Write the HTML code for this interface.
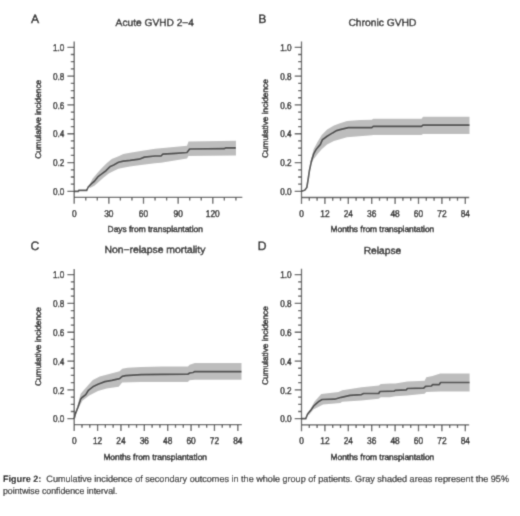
<!DOCTYPE html>
<html><head><meta charset="utf-8"><title>Figure 2</title>
<style>
html,body{margin:0;padding:0;background:#fff;width:520px;height:516px;overflow:hidden;font-family:"Liberation Sans", sans-serif;}
svg{display:block;}
</style></head><body>
<svg width="520" height="516" viewBox="0 0 520 516" font-family='"Liberation Sans", sans-serif'><defs><filter id="bl" x="0" y="0" width="520" height="516" filterUnits="userSpaceOnUse"><feConvolveMatrix order="3" kernelMatrix="0.0225 0.1050 0.0225 0.1050 0.4900 0.1050 0.0225 0.1050 0.0225" edgeMode="duplicate"/></filter></defs><style>text{text-rendering:geometricPrecision;stroke-width:0.45px}</style>
<g filter="url(#bl)"><rect width="520" height="516" fill="#fff"/>
<polygon points="88.2,187 92.5,178.8 97.3,173.1 102.1,167.8 106.9,163 111.7,159.1 118.5,156.25 123.3,154 130,152.8 139.2,151.2 155,148.7 187,145.8 188.5,141.6 236,140.7 236,155.6 188.5,156 187,158.5 161,162.8 155,163.3 139.2,165.2 130,166.6 123.3,167.8 118.5,168.8 113.7,170.9 108.8,173.5 104,177.3 99.2,181.5 94.4,185.7 90,188" fill="#bdbdbd"/>
<polygon points="310.5,162 313.6,149.2 317.6,141.7 321.7,134.9 327.1,129.5 333.9,125.4 340,123.2 347,121 360,120 371.8,119.8 373.2,118.7 421.5,118.7 423,116.7 469.5,116.7 469.5,133.9 423,133.9 421.5,134.9 373.2,134.9 371.8,135.3 347,137.2 340,139.2 333.9,141 327.1,144.4 321.7,149.2 317.6,153.9 313.6,159.3 312,163" fill="#bdbdbd"/>
<polygon points="75.5,413 78.1,403 80.7,393.7 85.8,387.7 92.8,379.9 99.7,376.4 110.1,373.8 119.6,371.2 122.2,368.7 127.4,367.8 141.2,366.9 162,366.6 187.9,366.4 189.6,364.7 194.8,363 241.5,363 241.5,379.8 194.8,379.8 189.6,380.3 187.9,382 162,382.1 141.2,382.1 122.2,382.5 118.7,386.8 106.6,388.5 98,391.1 89.3,395.5 82.4,400.7 78.1,409 75.5,415" fill="#bdbdbd"/>
<polygon points="306,416 309.9,410.1 314.4,401.7 321.2,394 338.5,392.1 342.3,390.2 361.5,387.3 378.8,385.4 380.8,384 390,383.6 395.2,383.4 407.3,381.6 424.6,380.8 426.3,377.3 432.4,375.9 440.2,373.5 469.6,373.5 469.6,391.5 440.2,391.5 426.3,392 424.6,393.7 407.3,395.5 395.2,396.3 390,397.2 380.8,397.3 378.8,398.8 361.5,400.4 342.3,401.7 340.4,403.1 323.1,404.6 319.2,406.5 313.4,409.5 309,415" fill="#bdbdbd"/>
<path d="M74.2 41.6V203.7M74.2 197.3H242.3M67.4 191.4H74.2M70.8 184.19H74.2M70.8 176.99H74.2M70.8 169.78H74.2M67.4 162.58H74.2M70.8 155.38H74.2M70.8 148.17H74.2M70.8 140.97H74.2M67.4 133.76H74.2M70.8 126.55H74.2M70.8 119.35H74.2M70.8 112.14H74.2M67.4 104.94H74.2M70.8 97.73H74.2M70.8 90.53H74.2M70.8 83.32H74.2M67.4 76.12H74.2M70.8 68.91H74.2M70.8 61.71H74.2M70.8 54.5H74.2M67.4 47.3H74.2M85.75 197.3V200.5M97.3 197.3V200.5M108.85 197.3V203.7M120.4 197.3V200.5M131.95 197.3V200.5M143.5 197.3V203.7M155.05 197.3V200.5M166.6 197.3V200.5M178.15 197.3V203.7M189.7 197.3V200.5M201.25 197.3V200.5M212.8 197.3V203.7M224.35 197.3V200.5M235.9 197.3V200.5" stroke="#555555" stroke-width="1.3" fill="none"/>
<text x="64.3" y="195.1" text-anchor="end" font-size="9.9" fill="#222222" stroke="#222222" textLength="11.4" lengthAdjust="spacingAndGlyphs">0.0</text>
<text x="64.3" y="166.28" text-anchor="end" font-size="9.9" fill="#222222" stroke="#222222" textLength="11.4" lengthAdjust="spacingAndGlyphs">0.2</text>
<text x="64.3" y="137.46" text-anchor="end" font-size="9.9" fill="#222222" stroke="#222222" textLength="11.4" lengthAdjust="spacingAndGlyphs">0.4</text>
<text x="64.3" y="108.64" text-anchor="end" font-size="9.9" fill="#222222" stroke="#222222" textLength="11.4" lengthAdjust="spacingAndGlyphs">0.6</text>
<text x="64.3" y="79.82" text-anchor="end" font-size="9.9" fill="#222222" stroke="#222222" textLength="11.4" lengthAdjust="spacingAndGlyphs">0.8</text>
<text x="64.3" y="51" text-anchor="end" font-size="9.9" fill="#222222" stroke="#222222" textLength="11.4" lengthAdjust="spacingAndGlyphs">1.0</text>
<text x="74.2" y="216.8" text-anchor="middle" font-size="9.9" fill="#222222" stroke="#222222" textLength="4.65" lengthAdjust="spacingAndGlyphs">0</text>
<text x="108.85" y="216.8" text-anchor="middle" font-size="9.9" fill="#222222" stroke="#222222" textLength="9.3" lengthAdjust="spacingAndGlyphs">30</text>
<text x="143.5" y="216.8" text-anchor="middle" font-size="9.9" fill="#222222" stroke="#222222" textLength="9.3" lengthAdjust="spacingAndGlyphs">60</text>
<text x="178.15" y="216.8" text-anchor="middle" font-size="9.9" fill="#222222" stroke="#222222" textLength="9.3" lengthAdjust="spacingAndGlyphs">90</text>
<text x="212.8" y="216.8" text-anchor="middle" font-size="9.9" fill="#222222" stroke="#222222" textLength="13.94" lengthAdjust="spacingAndGlyphs">120</text>
<path d="M301.5 41.5V203.9M301.5 197.5H469.2M294.7 191.4H301.5M298.1 184.19H301.5M298.1 176.99H301.5M298.1 169.78H301.5M294.7 162.58H301.5M298.1 155.38H301.5M298.1 148.17H301.5M298.1 140.97H301.5M294.7 133.76H301.5M298.1 126.55H301.5M298.1 119.35H301.5M298.1 112.14H301.5M294.7 104.94H301.5M298.1 97.73H301.5M298.1 90.53H301.5M298.1 83.32H301.5M294.7 76.12H301.5M298.1 68.91H301.5M298.1 61.71H301.5M298.1 54.5H301.5M294.7 47.3H301.5M309.3 197.5V200.7M317.1 197.5V200.7M324.9 197.5V203.9M332.7 197.5V200.7M340.5 197.5V200.7M348.3 197.5V203.9M356.1 197.5V200.7M363.9 197.5V200.7M371.7 197.5V203.9M379.5 197.5V200.7M387.3 197.5V200.7M395.1 197.5V203.9M402.9 197.5V200.7M410.7 197.5V200.7M418.5 197.5V203.9M426.3 197.5V200.7M434.1 197.5V200.7M441.9 197.5V203.9M449.7 197.5V200.7M457.5 197.5V200.7M465.3 197.5V203.9" stroke="#555555" stroke-width="1.3" fill="none"/>
<text x="291.6" y="195.1" text-anchor="end" font-size="9.9" fill="#222222" stroke="#222222" textLength="11.4" lengthAdjust="spacingAndGlyphs">0.0</text>
<text x="291.6" y="166.28" text-anchor="end" font-size="9.9" fill="#222222" stroke="#222222" textLength="11.4" lengthAdjust="spacingAndGlyphs">0.2</text>
<text x="291.6" y="137.46" text-anchor="end" font-size="9.9" fill="#222222" stroke="#222222" textLength="11.4" lengthAdjust="spacingAndGlyphs">0.4</text>
<text x="291.6" y="108.64" text-anchor="end" font-size="9.9" fill="#222222" stroke="#222222" textLength="11.4" lengthAdjust="spacingAndGlyphs">0.6</text>
<text x="291.6" y="79.82" text-anchor="end" font-size="9.9" fill="#222222" stroke="#222222" textLength="11.4" lengthAdjust="spacingAndGlyphs">0.8</text>
<text x="291.6" y="51" text-anchor="end" font-size="9.9" fill="#222222" stroke="#222222" textLength="11.4" lengthAdjust="spacingAndGlyphs">1.0</text>
<text x="301.5" y="217" text-anchor="middle" font-size="9.9" fill="#222222" stroke="#222222" textLength="4.65" lengthAdjust="spacingAndGlyphs">0</text>
<text x="324.9" y="217" text-anchor="middle" font-size="9.9" fill="#222222" stroke="#222222" textLength="9.3" lengthAdjust="spacingAndGlyphs">12</text>
<text x="348.3" y="217" text-anchor="middle" font-size="9.9" fill="#222222" stroke="#222222" textLength="9.3" lengthAdjust="spacingAndGlyphs">24</text>
<text x="371.7" y="217" text-anchor="middle" font-size="9.9" fill="#222222" stroke="#222222" textLength="9.3" lengthAdjust="spacingAndGlyphs">36</text>
<text x="395.1" y="217" text-anchor="middle" font-size="9.9" fill="#222222" stroke="#222222" textLength="9.3" lengthAdjust="spacingAndGlyphs">48</text>
<text x="418.5" y="217" text-anchor="middle" font-size="9.9" fill="#222222" stroke="#222222" textLength="9.3" lengthAdjust="spacingAndGlyphs">60</text>
<text x="441.9" y="217" text-anchor="middle" font-size="9.9" fill="#222222" stroke="#222222" textLength="9.3" lengthAdjust="spacingAndGlyphs">72</text>
<text x="465.3" y="217" text-anchor="middle" font-size="9.9" fill="#222222" stroke="#222222" textLength="9.3" lengthAdjust="spacingAndGlyphs">84</text>
<path d="M74.2 268.9V431M74.2 424.6H241.8M67.4 418.7H74.2M70.8 411.5H74.2M70.8 404.29H74.2M70.8 397.09H74.2M67.4 389.88H74.2M70.8 382.68H74.2M70.8 375.47H74.2M70.8 368.27H74.2M67.4 361.06H74.2M70.8 353.86H74.2M70.8 346.65H74.2M70.8 339.45H74.2M67.4 332.24H74.2M70.8 325.04H74.2M70.8 317.83H74.2M70.8 310.62H74.2M67.4 303.42H74.2M70.8 296.22H74.2M70.8 289.01H74.2M70.8 281.81H74.2M67.4 274.6H74.2M81.99 424.6V427.8M89.78 424.6V427.8M97.58 424.6V431M105.37 424.6V427.8M113.16 424.6V427.8M120.95 424.6V431M128.74 424.6V427.8M136.54 424.6V427.8M144.33 424.6V431M152.12 424.6V427.8M159.91 424.6V427.8M167.7 424.6V431M175.5 424.6V427.8M183.29 424.6V427.8M191.08 424.6V431M198.87 424.6V427.8M206.66 424.6V427.8M214.46 424.6V431M222.25 424.6V427.8M230.04 424.6V427.8M237.83 424.6V431" stroke="#555555" stroke-width="1.3" fill="none"/>
<text x="64.3" y="422.4" text-anchor="end" font-size="9.9" fill="#222222" stroke="#222222" textLength="11.4" lengthAdjust="spacingAndGlyphs">0.0</text>
<text x="64.3" y="393.58" text-anchor="end" font-size="9.9" fill="#222222" stroke="#222222" textLength="11.4" lengthAdjust="spacingAndGlyphs">0.2</text>
<text x="64.3" y="364.76" text-anchor="end" font-size="9.9" fill="#222222" stroke="#222222" textLength="11.4" lengthAdjust="spacingAndGlyphs">0.4</text>
<text x="64.3" y="335.94" text-anchor="end" font-size="9.9" fill="#222222" stroke="#222222" textLength="11.4" lengthAdjust="spacingAndGlyphs">0.6</text>
<text x="64.3" y="307.12" text-anchor="end" font-size="9.9" fill="#222222" stroke="#222222" textLength="11.4" lengthAdjust="spacingAndGlyphs">0.8</text>
<text x="64.3" y="278.3" text-anchor="end" font-size="9.9" fill="#222222" stroke="#222222" textLength="11.4" lengthAdjust="spacingAndGlyphs">1.0</text>
<text x="74.2" y="444.1" text-anchor="middle" font-size="9.9" fill="#222222" stroke="#222222" textLength="4.65" lengthAdjust="spacingAndGlyphs">0</text>
<text x="97.58" y="444.1" text-anchor="middle" font-size="9.9" fill="#222222" stroke="#222222" textLength="9.3" lengthAdjust="spacingAndGlyphs">12</text>
<text x="120.95" y="444.1" text-anchor="middle" font-size="9.9" fill="#222222" stroke="#222222" textLength="9.3" lengthAdjust="spacingAndGlyphs">24</text>
<text x="144.33" y="444.1" text-anchor="middle" font-size="9.9" fill="#222222" stroke="#222222" textLength="9.3" lengthAdjust="spacingAndGlyphs">36</text>
<text x="167.7" y="444.1" text-anchor="middle" font-size="9.9" fill="#222222" stroke="#222222" textLength="9.3" lengthAdjust="spacingAndGlyphs">48</text>
<text x="191.08" y="444.1" text-anchor="middle" font-size="9.9" fill="#222222" stroke="#222222" textLength="9.3" lengthAdjust="spacingAndGlyphs">60</text>
<text x="214.46" y="444.1" text-anchor="middle" font-size="9.9" fill="#222222" stroke="#222222" textLength="9.3" lengthAdjust="spacingAndGlyphs">72</text>
<text x="237.83" y="444.1" text-anchor="middle" font-size="9.9" fill="#222222" stroke="#222222" textLength="9.3" lengthAdjust="spacingAndGlyphs">84</text>
<path d="M301.5 268.8V431.2M301.5 424.8H469.2M294.7 418.7H301.5M298.1 411.5H301.5M298.1 404.29H301.5M298.1 397.09H301.5M294.7 389.88H301.5M298.1 382.68H301.5M298.1 375.47H301.5M298.1 368.27H301.5M294.7 361.06H301.5M298.1 353.86H301.5M298.1 346.65H301.5M298.1 339.45H301.5M294.7 332.24H301.5M298.1 325.04H301.5M298.1 317.83H301.5M298.1 310.62H301.5M294.7 303.42H301.5M298.1 296.22H301.5M298.1 289.01H301.5M298.1 281.81H301.5M294.7 274.6H301.5M309.3 424.8V428M317.1 424.8V428M324.9 424.8V431.2M332.7 424.8V428M340.5 424.8V428M348.3 424.8V431.2M356.1 424.8V428M363.9 424.8V428M371.7 424.8V431.2M379.5 424.8V428M387.3 424.8V428M395.1 424.8V431.2M402.9 424.8V428M410.7 424.8V428M418.5 424.8V431.2M426.3 424.8V428M434.1 424.8V428M441.9 424.8V431.2M449.7 424.8V428M457.5 424.8V428M465.3 424.8V431.2" stroke="#555555" stroke-width="1.3" fill="none"/>
<text x="291.6" y="422.4" text-anchor="end" font-size="9.9" fill="#222222" stroke="#222222" textLength="11.4" lengthAdjust="spacingAndGlyphs">0.0</text>
<text x="291.6" y="393.58" text-anchor="end" font-size="9.9" fill="#222222" stroke="#222222" textLength="11.4" lengthAdjust="spacingAndGlyphs">0.2</text>
<text x="291.6" y="364.76" text-anchor="end" font-size="9.9" fill="#222222" stroke="#222222" textLength="11.4" lengthAdjust="spacingAndGlyphs">0.4</text>
<text x="291.6" y="335.94" text-anchor="end" font-size="9.9" fill="#222222" stroke="#222222" textLength="11.4" lengthAdjust="spacingAndGlyphs">0.6</text>
<text x="291.6" y="307.12" text-anchor="end" font-size="9.9" fill="#222222" stroke="#222222" textLength="11.4" lengthAdjust="spacingAndGlyphs">0.8</text>
<text x="291.6" y="278.3" text-anchor="end" font-size="9.9" fill="#222222" stroke="#222222" textLength="11.4" lengthAdjust="spacingAndGlyphs">1.0</text>
<text x="301.5" y="444.3" text-anchor="middle" font-size="9.9" fill="#222222" stroke="#222222" textLength="4.65" lengthAdjust="spacingAndGlyphs">0</text>
<text x="324.9" y="444.3" text-anchor="middle" font-size="9.9" fill="#222222" stroke="#222222" textLength="9.3" lengthAdjust="spacingAndGlyphs">12</text>
<text x="348.3" y="444.3" text-anchor="middle" font-size="9.9" fill="#222222" stroke="#222222" textLength="9.3" lengthAdjust="spacingAndGlyphs">24</text>
<text x="371.7" y="444.3" text-anchor="middle" font-size="9.9" fill="#222222" stroke="#222222" textLength="9.3" lengthAdjust="spacingAndGlyphs">36</text>
<text x="395.1" y="444.3" text-anchor="middle" font-size="9.9" fill="#222222" stroke="#222222" textLength="9.3" lengthAdjust="spacingAndGlyphs">48</text>
<text x="418.5" y="444.3" text-anchor="middle" font-size="9.9" fill="#222222" stroke="#222222" textLength="9.3" lengthAdjust="spacingAndGlyphs">60</text>
<text x="441.9" y="444.3" text-anchor="middle" font-size="9.9" fill="#222222" stroke="#222222" textLength="9.3" lengthAdjust="spacingAndGlyphs">72</text>
<text x="465.3" y="444.3" text-anchor="middle" font-size="9.9" fill="#222222" stroke="#222222" textLength="9.3" lengthAdjust="spacingAndGlyphs">84</text>
<polyline points="74.2,191.4 78.3,191.4 78.7,190.4 86.7,190.4 88.2,187 91.5,183.7 94.4,181.25 97.8,176.9 102.1,173.6 106,170.7 109.8,166.8 113.7,164.9 118.5,162.3 123.3,161.1 130,160.4 139.2,159.2 144.4,157.1 155,156 161,156 162.8,154.2 175.8,153.4 187,152.5 189.6,149 224.2,148.7 226,147.8 236,147.8" fill="none" stroke="#474747" stroke-width="1.7" stroke-linejoin="round"/>
<polyline points="301.5,191.3 304.7,190.3 306.8,187.5 308.1,179.7 309.5,170.2 311.5,160.7 313.6,153.9 316.3,149.2 320.4,144.4 322.4,139.7 327.1,136.3 332.6,132.9 336.6,130.6 340,129.6 348.3,127.6 371.8,127.6 373.2,126.4 421.5,126.4 422.9,125.2 469.5,125.2" fill="none" stroke="#474747" stroke-width="1.7" stroke-linejoin="round"/>
<polyline points="74.2,418.6 75.5,413.6 78.1,406.7 80.7,398.9 82.4,397.2 85.8,394.6 88.4,390.3 92.8,386.8 98,384.2 104.9,381.6 111.8,380.4 119.6,378.7 122.2,376.4 125.6,375.6 141.2,374.7 162,374.3 187.9,374.2 189.6,373 193.1,372.5 194.8,371.6 241.5,371.6" fill="none" stroke="#474747" stroke-width="1.7" stroke-linejoin="round"/>
<polyline points="301.5,418.6 305.8,418.6 307.7,413.8 310.6,410.4 313.5,406.2 316.3,403.7 319.2,401.2 322.1,399.5 334.6,399.2 341.3,397.3 350,395.4 361.5,394.6 363.5,393.5 378.8,393.5 379.8,391.5 394.2,391.2 395.2,390.3 406.4,389.9 407.3,388.5 423.7,388.2 425.5,386.3 431.5,386 432.4,384.7 439.3,384.6 440.5,382.5 469.6,382.5" fill="none" stroke="#474747" stroke-width="1.7" stroke-linejoin="round"/>
<text x="115.6" y="25.9" font-size="10.2" fill="#2a2a2a" stroke="#2a2a2a" textLength="78.4" lengthAdjust="spacingAndGlyphs">Acute GVHD 2−4</text>
<text x="348.4" y="25.8" font-size="10.2" fill="#2a2a2a" stroke="#2a2a2a" textLength="68" lengthAdjust="spacingAndGlyphs">Chronic GVHD</text>
<text x="104.6" y="253.4" font-size="10.2" fill="#2a2a2a" stroke="#2a2a2a" textLength="100.8" lengthAdjust="spacingAndGlyphs">Non−relapse mortality</text>
<text x="363.7" y="253.6" font-size="10.2" fill="#2a2a2a" stroke="#2a2a2a" textLength="37.5" lengthAdjust="spacingAndGlyphs">Relapse</text>
<text x="31.1" y="22.7" font-size="12.2" fill="#1e1e1e" stroke="#1e1e1e">A</text>
<text x="258.3" y="22.7" font-size="12.2" fill="#1e1e1e" stroke="#1e1e1e">B</text>
<text x="30.5" y="250.1" font-size="12.2" fill="#1e1e1e" stroke="#1e1e1e">C</text>
<text x="257.7" y="250.3" font-size="12.2" fill="#1e1e1e" stroke="#1e1e1e">D</text>
<text transform="translate(40.7 119.3) rotate(-90)" x="0" y="0" text-anchor="middle" font-size="8.3" fill="#222222" stroke="#222222" textLength="79" lengthAdjust="spacingAndGlyphs">Cumulative incidence</text>
<text transform="translate(268.1 118.6) rotate(-90)" x="0" y="0" text-anchor="middle" font-size="8.3" fill="#222222" stroke="#222222" textLength="79" lengthAdjust="spacingAndGlyphs">Cumulative incidence</text>
<text transform="translate(41.2 346.6) rotate(-90)" x="0" y="0" text-anchor="middle" font-size="8.3" fill="#222222" stroke="#222222" textLength="79" lengthAdjust="spacingAndGlyphs">Cumulative incidence</text>
<text transform="translate(268.2 345.6) rotate(-90)" x="0" y="0" text-anchor="middle" font-size="8.3" fill="#222222" stroke="#222222" textLength="79" lengthAdjust="spacingAndGlyphs">Cumulative incidence</text>
<text x="107.6" y="231.6" font-size="8.6" fill="#222222" stroke="#222222" textLength="95.2" lengthAdjust="spacingAndGlyphs">Days from transplantation</text>
<text x="330.6" y="231.7" font-size="8.6" fill="#222222" stroke="#222222" textLength="103.6" lengthAdjust="spacingAndGlyphs">Months from transplantation</text>
<text x="103.4" y="459.5" font-size="8.6" fill="#222222" stroke="#222222" textLength="103.6" lengthAdjust="spacingAndGlyphs">Months from transplantation</text>
<text x="330.6" y="459.5" font-size="8.6" fill="#222222" stroke="#222222" textLength="103.6" lengthAdjust="spacingAndGlyphs">Months from transplantation</text>
<text x="3" y="482.3" font-size="9.3" fill="#1a1a1a" stroke="#1a1a1a" style="stroke-width:0.2px" textLength="506" lengthAdjust="spacingAndGlyphs"><tspan font-weight="bold" fill="#000" stroke="#000" style="stroke-width:0.1px">Figure 2:</tspan>  Cumulative incidence of secondary outcomes in the whole group of patients. Gray shaded areas represent the 95%</text>
<text x="3" y="493.8" font-size="9.3" fill="#1a1a1a" stroke="#1a1a1a" style="stroke-width:0.2px" textLength="114.5" lengthAdjust="spacingAndGlyphs">pointwise confidence interval.</text>
</g></svg>
</body></html>
